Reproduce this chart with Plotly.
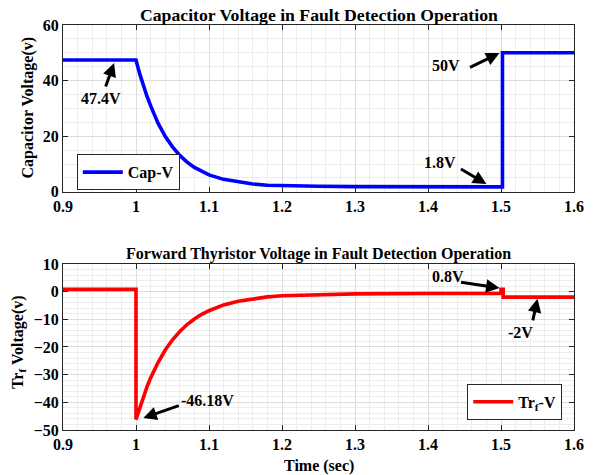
import plotly.graph_objects as go

# ---- data ----
cap_t = [0.9, 1.0, 1.005, 1.01, 1.015, 1.02, 1.03, 1.04, 1.05, 1.06, 1.07, 1.08, 1.09,
         1.10, 1.12, 1.14, 1.16, 1.18, 1.20, 1.25, 1.30, 1.40, 1.502, 1.502, 1.6]
cap_v = [47.4, 47.4, 42.5, 38.2, 34.4, 31.0, 24.8, 20.0, 16.2, 13.1, 10.7, 8.8, 7.3,
         6.1, 4.5, 3.5, 2.8, 2.4, 2.2, 2.0, 1.9, 1.85, 1.8, 50.0, 50.0]

trf_t = [0.9, 1.0, 1.0, 1.005, 1.01, 1.015, 1.02, 1.03, 1.04, 1.05, 1.06, 1.07, 1.08,
         1.09, 1.10, 1.12, 1.14, 1.16, 1.18, 1.20, 1.25, 1.30, 1.40, 1.50, 1.50,
         1.503, 1.503, 1.6]
trf_v = [0.8, 0.8, -46.18, -41.9, -38.0, -34.4, -31.2, -25.7, -21.1, -17.4, -14.4,
         -11.9, -9.9, -8.2, -6.9, -4.8, -3.5, -2.6, -1.9, -1.5, -1.0, -0.8, -0.7,
         -0.6, 0.8, 0.8, -2.0, -2.0]

x_ticks = [0.9, 1.0, 1.1, 1.2, 1.3, 1.4, 1.5, 1.6]
x_tick_labels = ["0.9", "1", "1.1", "1.2", "1.3", "1.4", "1.5", "1.6"]
cap_y_ticks = [0, 20, 40, 60]
trf_y_ticks = [10, 0, -10, -20, -30, -40, -50]

FONT = "Liberation Serif, 'Times New Roman', Times, serif"
bold = dict(family=FONT, size=16, color="black", weight="bold")

fig = go.Figure()
fig.add_trace(go.Scatter(x=cap_t, y=cap_v, mode="lines", name="Cap-V",
                         line=dict(color="#0000ff", width=3.6),
                         xaxis="x", yaxis="y", legend="legend"))
fig.add_trace(go.Scatter(x=trf_t, y=trf_v, mode="lines", name="Tr<sub>f</sub>-V",
                         line=dict(color="#ff0000", width=3.6),
                         xaxis="x2", yaxis="y2", legend="legend2"))

axis_common = dict(
    showline=True, linecolor="#262626", linewidth=1, mirror="ticks",
    ticks="inside", ticklen=5, tickcolor="#262626",
    showgrid=True, gridcolor="#dcdcdc", gridwidth=1, zeroline=False,
    tickfont=bold,
)

xminor = dict(dtick=0.02, showgrid=True, gridcolor="#ececec", ticks="")

fig.update_layout(
    width=595, height=475,
    margin=dict(l=63, r=11, t=25, b=45),
    plot_bgcolor="white", paper_bgcolor="white",
    font=dict(family=FONT),
    showlegend=True,
    xaxis=dict(domain=[0, 1], range=[0.9, 1.6], anchor="y",
               tickvals=x_ticks, ticktext=x_tick_labels, minor=xminor, **axis_common),
    yaxis=dict(domain=[0.588, 1.0], range=[0, 60], anchor="x",
               tickvals=cap_y_ticks, minor=dict(dtick=5, showgrid=True, gridcolor="#ececec", ticks=""),
               **axis_common),
    xaxis2=dict(domain=[0, 1], range=[0.9, 1.6], anchor="y2",
                tickvals=x_ticks, ticktext=x_tick_labels, minor=xminor, **axis_common),
    yaxis2=dict(domain=[0, 0.41], range=[-50, 10], anchor="x2",
                tickvals=trf_y_ticks, minor=dict(dtick=2, showgrid=True, gridcolor="#ececec", ticks=""),
                **axis_common),
    legend=dict(x=0.027, y=0.681, xanchor="left", yanchor="top",
                bgcolor="white", bordercolor="#262626", borderwidth=1,
                font=bold, itemwidth=40, tracegroupgap=0),
    legend2=dict(x=0.977, y=0.025, xanchor="right", yanchor="bottom",
                 bgcolor="white", bordercolor="#262626", borderwidth=1,
                 font=bold, itemwidth=40, tracegroupgap=0),
)

ann = []
# titles
ann.append(dict(text="Capacitor Voltage in Fault Detection Operation", x=0.5, y=1.0,
                xref="paper", yref="paper", yshift=10, xanchor="center", yanchor="middle",
                showarrow=False, font=dict(family=FONT, size=17.7, color="black", weight="bold")))
ann.append(dict(text="Forward Thyristor Voltage in Fault Detection Operation", x=0.5, y=0.41,
                xref="paper", yref="paper", yshift=10, xanchor="center", yanchor="middle",
                showarrow=False, font=dict(family=FONT, size=16, color="black", weight="bold")))
# axis titles
ann.append(dict(text="Capacitor Voltage(v)", x=0, y=0.794, xref="paper", yref="paper",
                xshift=-35, textangle=-90, showarrow=False, xanchor="center", yanchor="middle",
                font=bold))
ann.append(dict(text="Tr<sub>f</sub> Voltage(v)", x=0, y=0.217, xref="paper", yref="paper",
                xshift=-45, textangle=-90, showarrow=False, xanchor="center", yanchor="middle",
                font=bold))
ann.append(dict(text="Time (sec)", x=0.5, y=0, xref="paper", yref="paper",
                yshift=-36, showarrow=False, xanchor="center", yanchor="middle", font=bold))

arrow = dict(showarrow=True, arrowhead=2, arrowsize=0.9, arrowwidth=3,
             arrowcolor="black", text="", standoff=0, startstandoff=0)

def add_label(xr, yr, tip, off, txt, txtpos):
    ann.append(dict(x=tip[0], y=tip[1], xref=xr, yref=yr, ax=off[0], ay=off[1], **arrow))
    ann.append(dict(x=txtpos[0], y=txtpos[1], xref=xr, yref=yr, text=txt,
                    showarrow=False, font=bold, xanchor="center", yanchor="middle"))

add_label("x", "y", (0.970, 46.3), (-9, 25), "47.4V", (0.952, 33.7))
add_label("x", "y", (1.498, 49.9), (-31, 15), "50V", (1.424, 45.6))
add_label("x", "y", (1.480, 2.8), (-27, -16), "1.8V", (1.416, 10.7))
add_label("x2", "y2", (1.010, -45.7), (37, -13), "-46.18V", (1.098, -39.5))
add_label("x2", "y2", (1.498, 1.3), (-40, -6), "0.8V", (1.427, 5.3))
add_label("x2", "y2", (1.550, -2.6), (-5, 23), "-2V", (1.527, -14.6))

fig.update_layout(annotations=ann)
fig.write_html("out.html")
